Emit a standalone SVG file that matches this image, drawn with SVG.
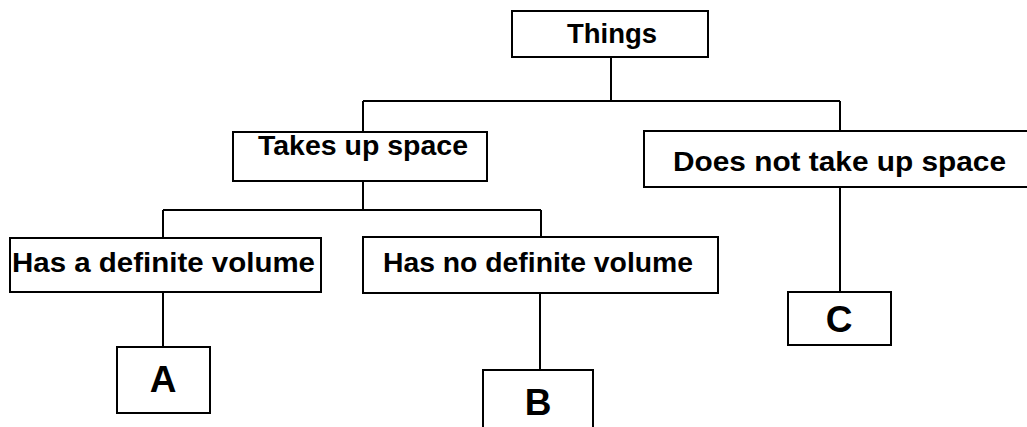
<svg xmlns="http://www.w3.org/2000/svg" width="1027" height="427" viewBox="0 0 1027 427">
<style>
.box{fill:#fff;stroke:#000;stroke-width:2}
.t{font-family:"Liberation Sans",Arial,sans-serif;font-weight:bold;font-size:28px;fill:#000;text-anchor:middle}
.L{font-family:"Liberation Sans",Arial,sans-serif;font-weight:bold;font-size:37px;fill:#000;text-anchor:middle}
.c{fill:none;stroke:#000;stroke-width:2}
</style>
<rect width="1027" height="427" fill="#fff"/>
<g id="connectors">
<path class="c" d="M611 57V101M363 101H840M363 101V132M840 101V131"/>
<path class="c" d="M363 181V210M163 210H541M163 210V238M541 210V237"/>
<path class="c" d="M163 292V347M540 293V370M840 187V292"/>
</g>
<g id="things"><rect class="box" x="512" y="11" width="196" height="46"/><text class="t" x="612" y="43" textLength="90" lengthAdjust="spacingAndGlyphs">Things</text></g>
<g id="takes"><rect class="box" x="233" y="132" width="254" height="49"/><text class="t" x="363" y="155" textLength="210" lengthAdjust="spacingAndGlyphs">Takes up space</text></g>
<g id="notakes"><rect class="box" x="644" y="131" width="400" height="56"/><text class="t" x="839.5" y="171" textLength="333" lengthAdjust="spacingAndGlyphs">Does not take up space</text></g>
<g id="definite"><rect class="box" x="10" y="238" width="311" height="54"/><text class="t" x="163.5" y="272" textLength="303" lengthAdjust="spacingAndGlyphs">Has a definite volume</text></g>
<g id="nodefinite"><rect class="box" x="363" y="237" width="355" height="56"/><text class="t" x="538" y="272" textLength="310" lengthAdjust="spacingAndGlyphs">Has no definite volume</text></g>
<g id="A"><rect class="box" x="117" y="347" width="93" height="66"/><text class="L" x="163" y="392">A</text></g>
<g id="B"><rect class="box" x="483" y="370" width="110" height="70"/><text class="L" x="538" y="415">B</text></g>
<g id="C"><rect class="box" x="788" y="292" width="103" height="53"/><text class="L" x="839" y="332">C</text></g>
</svg>
